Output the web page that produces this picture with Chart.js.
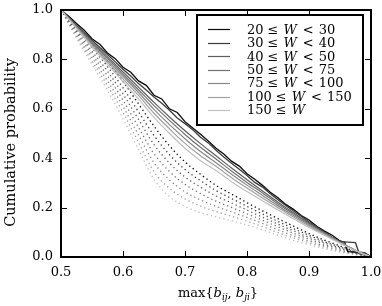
<!DOCTYPE html>
<html><head><meta charset="utf-8">
<script src="https://cdn.jsdelivr.net/npm/chart.js@4.4.0/dist/chart.umd.min.js"></script>
<style>html,body{margin:0;padding:0;background:#fff}#wrap{width:382px;height:306px}</style>
</head><body><div id="wrap"><canvas id="c" width="382" height="306"></canvas></div>
<script>
// ---- data ----
const legendLow = [20, 30, 40, 50, 75, 100, 150];
const legendHigh = [30, 40, 50, 75, 100, 150, null];
const greys = ['#0a0a0a', '#3c3c3c', '#5e5e5e', '#727272', '#888888', '#a0a0a0', '#c0c0c0'];
const yTitle = 'Cumulative probability';

const xGrid = [0.5, 0.525, 0.55, 0.575, 0.6, 0.625, 0.65, 0.675, 0.7, 0.725, 0.75,
               0.775, 0.8, 0.825, 0.85, 0.875, 0.9, 0.925, 0.95, 0.975, 1.0];
const jaggedX = [0.5, 0.5125, 0.525, 0.5375, 0.55, 0.5625, 0.575, 0.5875, 0.6, 0.6125,
                 0.625, 0.6375, 0.65, 0.6625, 0.675, 0.6875, 0.7, 0.7125, 0.725, 0.7375,
                 0.75, 0.7625, 0.775, 0.7875, 0.8, 0.8125, 0.825, 0.8375, 0.85, 0.8625,
                 0.875, 0.8875, 0.9, 0.9125, 0.925, 0.9375, 0.95, 0.9575, 0.9625, 0.975,
                 0.98, 0.99, 1.0];

// observed (solid)
const obsW20 = [1.0, .975, .945, .918, .884, .861, .826, .803, .768, .748, .713, .695, .655,
                .640, .600, .585, .548, .522, .497, .470, .440, .417, .388, .368, .337, .315,
                .290, .262, .240, .213, .193, .168, .150, .124, .105, .088, .065, .060, .022,
                .020, .019, .016, 0];
const obsW30 = [1.0, .970, .938, .908, .878, .848, .820, .790, .760, .733, .702, .676, .648,
                .622, .594, .563, .540, .515, .485, .462, .432, .405, .380, .355, .330, .302,
                .283, .256, .232, .209, .186, .165, .142, .122, .100, .080, .062, .061, .060,
                .058, .021, .017, 0];
const obsW40 = [1.0, .936, .872, .810, .749, .688, .626, .567, .511, .459, .410, .360, .313, .267, .222, .179, .138, .099, .061, .027, 0];
const obsW50 = [1.0, .933, .867, .804, .740, .677, .613, .553, .496, .444, .397, .348, .302, .259, .215, .174, .134, .096, .060, .026, 0];
const obsW75 = [1.0, .931, .862, .796, .731, .666, .598, .536, .479, .427, .382, .335, .291, .249, .207, .168, .130, .094, .059, .026, 0];
const obsW100 = [1.0, .928, .856, .789, .721, .654, .582, .519, .460, .410, .367, .321, .279, .239, .199, .162, .125, .091, .057, .026, 0];
const obsW150 = [1.0, .925, .850, .780, .710, .640, .565, .500, .440, .390, .350, .305, .265, .228, .190, .155, .120, .088, .056, .026, 0];

// null model (dotted)
const nullW20 = [1.0, .930, .860, .790, .710, .620, .530, .450, .385, .335, .290, .255, .220, .187, .155, .125, .095, .068, .045, .020, 0];
const nullW30 = [1.0, .923, .847, .771, .685, .588, .492, .414, .354, .309, .269, .237, .205, .174, .144, .115, .088, .062, .041, .018, 0];
const nullW40 = [1.0, .915, .833, .752, .660, .557, .455, .380, .324, .283, .247, .219, .190, .161, .133, .106, .080, .057, .037, .016, 0];
const nullW50 = [1.0, .908, .820, .733, .635, .525, .418, .346, .294, .257, .226, .201, .175, .149, .122, .096, .073, .051, .033, .015, 0];
const nullW75 = [1.0, .900, .807, .713, .610, .494, .382, .312, .264, .231, .205, .183, .160, .136, .110, .086, .065, .045, .028, .013, 0];
const nullW100 = [1.0, .893, .793, .694, .585, .464, .345, .278, .235, .206, .184, .165, .145, .123, .099, .077, .058, .040, .024, .011, 0];
const nullW150 = [1.0, .885, .780, .675, .560, .435, .315, .245, .205, .180, .162, .147, .130, .110, .088, .067, .050, .034, .020, .009, 0];

const xTicks = [0.5, 0.6, 0.7, 0.8, 0.9, 1.0];
const yTicks = [0.0, 0.2, 0.4, 0.6, 0.8, 1.0];

// ---- build ----
const obsSeries = [[jaggedX, obsW20], [jaggedX, obsW30], [xGrid, obsW40], [xGrid, obsW50],
                   [xGrid, obsW75], [xGrid, obsW100], [xGrid, obsW150]];
const nullSeries = [nullW20, nullW30, nullW40, nullW50, nullW75, nullW100, nullW150];
const pts = (xs, ys) => xs.map((x, i) => ({x: x, y: ys[i]}));

const datasets = [];
nullSeries.forEach((ys, i) => datasets.push({
  data: pts(xGrid, ys), borderColor: greys[i], borderWidth: 1.3, borderDash: [1.3, 3],
  cubicInterpolationMode: 'monotone', pointRadius: 0, fill: false, order: 10 + i
}));
obsSeries.forEach((s, i) => datasets.push({
  data: pts(s[0], s[1]), borderColor: greys[i], borderWidth: i < 2 ? 1.3 : 1.2,
  cubicInterpolationMode: i < 2 ? 'default' : 'monotone',
  pointRadius: 0, fill: false, order: 7 - i
}));

const serif = 'DejaVu Serif';

const decor = {
  id: 'decor',
  afterDraw(chart) {
    const ctx = chart.ctx, a = chart.chartArea, xs = chart.scales.x, ys = chart.scales.y;
    ctx.save();
    // ticks inward on all sides
    ctx.strokeStyle = '#000'; ctx.lineWidth = 1;
    ctx.beginPath();
    xTicks.forEach(v => {
      const p = Math.round(xs.getPixelForValue(v)) + 0.5;
      ctx.moveTo(p, a.bottom); ctx.lineTo(p, a.bottom - 6);
      ctx.moveTo(p, a.top); ctx.lineTo(p, a.top + 6);
    });
    yTicks.forEach(v => {
      const p = Math.round(ys.getPixelForValue(v)) + 0.5;
      ctx.moveTo(a.left, p); ctx.lineTo(a.left + 6, p);
      ctx.moveTo(a.right, p); ctx.lineTo(a.right - 6, p);
    });
    ctx.stroke();
    ctx.lineWidth = 2;
    ctx.strokeRect(a.left, a.top, a.right - a.left, a.bottom - a.top);

    // legend
    const bx = a.left + 136, by = a.top + 5, bw = 166, bh = 110;
    ctx.fillStyle = '#fff';
    ctx.fillRect(bx, by, bw, bh);
    ctx.lineWidth = 2; ctx.strokeStyle = '#000';
    ctx.strokeRect(bx, by, bw, bh);
    const reg = '13px "' + serif + '"', ita = 'italic 13px "' + serif + '"';
    ctx.textBaseline = 'middle';
    legendLow.forEach((lo, i) => {
      const y = by + 14.3 + 13.45 * i;
      ctx.strokeStyle = greys[i]; ctx.lineWidth = 1.2;
      ctx.beginPath(); ctx.moveTo(bx + 11, Math.round(y) + 0.5); ctx.lineTo(bx + 33, Math.round(y) + 0.5); ctx.stroke();
      ctx.fillStyle = '#000';
      let x = bx + 50;
      const put = (txt, f, gap) => { ctx.font = f; ctx.fillText(txt, x, y + 1); x += ctx.measureText(txt).width + gap; };
      put(String(lo), reg, 4);
      put('\u2264', reg, 5);
      if (legendHigh[i] !== null) {
        put('W', ita, 6);
        put('<', reg, 5);
        put(String(legendHigh[i]), reg, 0);
      } else {
        put('W', ita, 0);
      }
    });

    // x axis title: max{b_ij, b_ji}
    const sub = 'italic 9px "' + serif + '"';
    const parts = [['max{', reg, 0], ['b', ita, 0], ['ij', sub, 3],
                   [', ', reg, 0], ['b', ita, 0], ['ji', sub, 3], ['}', reg, 0]];
    let tw = 0;
    parts.forEach(p => { ctx.font = p[1]; tw += ctx.measureText(p[0]).width; });
    let x = (a.left + a.right) / 2 - tw / 2 + 2;
    ctx.textBaseline = 'alphabetic'; ctx.fillStyle = '#000';
    parts.forEach(p => { ctx.font = p[1]; ctx.fillText(p[0], x, 297 + p[2]); x += ctx.measureText(p[0]).width; });

    // y axis title
    ctx.translate(11, (a.top + a.bottom) / 2 + 9);
    ctx.rotate(-Math.PI / 2);
    ctx.font = '14.5px "' + serif + '"';
    ctx.textAlign = 'center'; ctx.textBaseline = 'middle';
    ctx.fillText(yTitle, 0, 0);
    ctx.restore();
  }
};

new Chart(document.getElementById('c'), {
  type: 'line',
  data: {datasets: datasets},
  options: {
    responsive: false, animation: false, devicePixelRatio: 1,
    layout: {padding: {top: 10, right: 11, bottom: 0, left: 0}},
    plugins: {legend: {display: false}, tooltip: {enabled: false}},
    elements: {line: {tension: 0}, point: {radius: 0}},
    scales: {
      x: {
        type: 'linear', min: 0.5, max: 1.0,
        grid: {display: false, drawTicks: false}, border: {display: false},
        afterBuildTicks: s => { s.ticks = xTicks.map(v => ({value: v})); },
        ticks: {padding: 8, color: '#000', font: {family: serif, size: 13},
                maxRotation: 0, autoSkip: false, callback: v => Number(v).toFixed(1)},
        afterFit: s => { s.height = 49; s.paddingLeft = 0; s.paddingRight = 0; }
      },
      y: {
        type: 'linear', min: 0, max: 1,
        grid: {display: false, drawTicks: false}, border: {display: false},
        afterBuildTicks: s => { s.ticks = yTicks.map(v => ({value: v})); },
        ticks: {padding: 8, color: '#000', font: {family: serif, size: 13},
                autoSkip: false, callback: v => Number(v).toFixed(1)},
        afterFit: s => { s.width = 61; s.paddingTop = 0; s.paddingBottom = 0; }
      }
    }
  },
  plugins: [decor]
});
</script></body></html>
